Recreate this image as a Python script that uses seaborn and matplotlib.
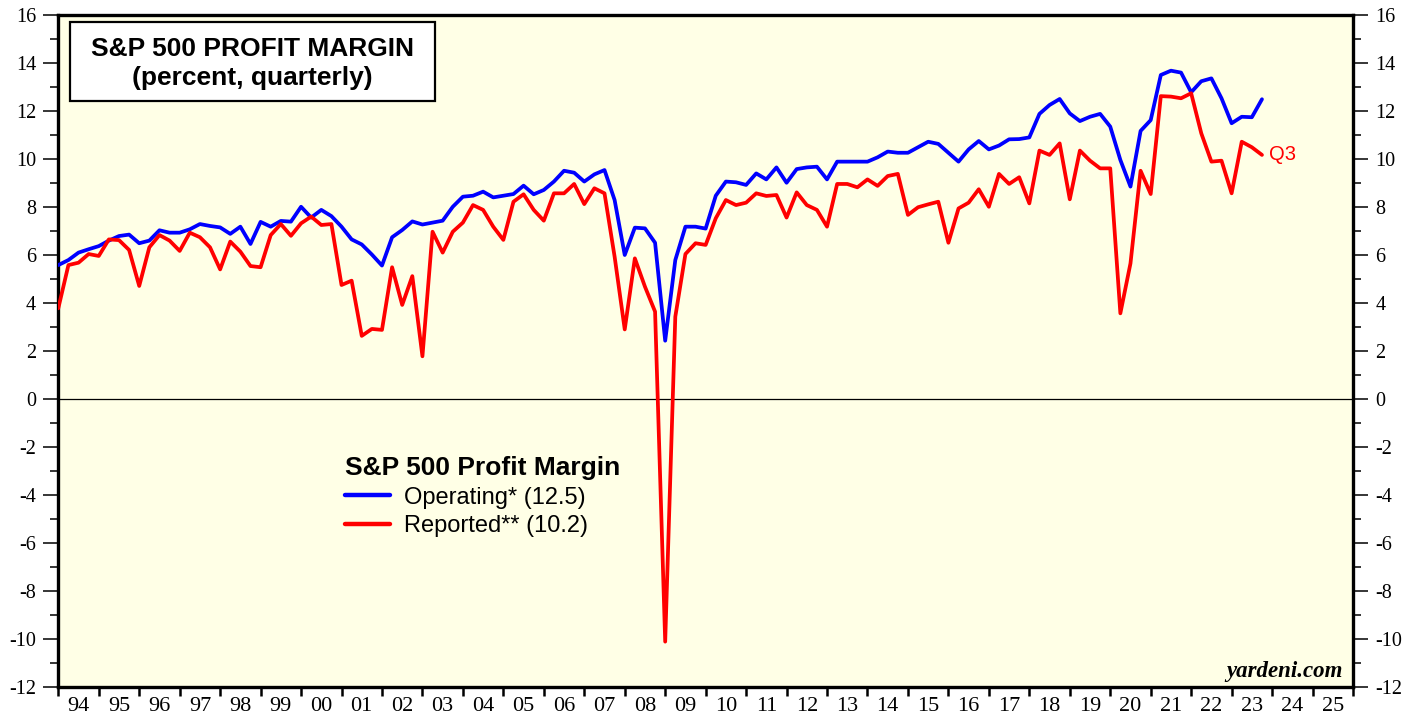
import numpy as np
import pandas as pd
import matplotlib
matplotlib.use("Agg")
import matplotlib.pyplot as plt
import seaborn as sns
from matplotlib.patches import Rectangle
from matplotlib.ticker import MultipleLocator, FixedLocator, FixedFormatter, NullFormatter

# ---------------- data (quarterly, first point = Q4 1993) ----------------
first_year, first_q = 1993, 4
operating = [
    5.58, 5.79, 6.10, 6.24, 6.37, 6.60, 6.79, 6.85, 6.49, 6.60,
    7.03, 6.93, 6.93, 7.07, 7.29, 7.21, 7.15, 6.88, 7.18, 6.46,
    7.38, 7.18, 7.42, 7.39, 8.01, 7.56, 7.88, 7.62, 7.18, 6.65,
    6.44, 6.02, 5.56, 6.74, 7.04, 7.40, 7.27, 7.35, 7.43, 8.01,
    8.43, 8.47, 8.64, 8.40, 8.47, 8.54, 8.89, 8.53, 8.71, 9.06,
    9.51, 9.43, 9.06, 9.36, 9.54, 8.29, 6.00, 7.14, 7.11, 6.51,
    2.43, 5.79, 7.18, 7.18, 7.10, 8.47, 9.06, 9.03, 8.92, 9.40,
    9.15, 9.65, 9.01, 9.58, 9.65, 9.68, 9.15, 9.89, 9.89, 9.89,
    9.89, 10.07, 10.31, 10.26, 10.26, 10.49, 10.72, 10.63, 10.26, 9.89,
    10.40, 10.75, 10.40, 10.56, 10.82, 10.83, 10.90, 11.88, 12.25, 12.50,
    11.90, 11.58, 11.76, 11.88, 11.35, 9.96, 8.85, 11.17, 11.62, 13.50,
    13.68, 13.60, 12.78, 13.24, 13.36, 12.53, 11.49, 11.76, 11.74, 12.49,
]
reported = [
    3.78, 5.58, 5.68, 6.04, 5.96, 6.65, 6.62, 6.21, 4.71, 6.32,
    6.83, 6.60, 6.17, 6.93, 6.74, 6.32, 5.40, 6.56, 6.14, 5.54,
    5.49, 6.83, 7.29, 6.80, 7.32, 7.60, 7.25, 7.29, 4.75, 4.93,
    2.63, 2.92, 2.88, 5.49, 3.92, 5.12, 1.78, 6.97, 6.10, 6.97,
    7.35, 8.08, 7.88, 7.18, 6.63, 8.22, 8.53, 7.88, 7.43, 8.57,
    8.57, 8.96, 8.12, 8.78, 8.57, 5.93, 2.90, 5.86, 4.68, 3.64,
    -10.11, 3.43, 6.04, 6.49, 6.42, 7.53, 8.29, 8.08, 8.18, 8.57,
    8.46, 8.50, 7.56, 8.61, 8.08, 7.88, 7.18, 8.96, 8.96, 8.82,
    9.15, 8.88, 9.29, 9.38, 7.67, 7.99, 8.11, 8.22, 6.51, 7.94,
    8.18, 8.74, 8.01, 9.38, 8.96, 9.24, 8.15, 10.35, 10.17, 10.65,
    8.32, 10.35, 9.93, 9.61, 9.61, 3.57, 5.65, 9.51, 8.54, 12.62,
    12.60, 12.53, 12.74, 11.07, 9.89, 9.93, 8.57, 10.72, 10.49, 10.17,
]
series_names = ["Operating* (12.5)", "Reported** (10.2)"]
series_colors = ["#0000FF", "#FF0000"]
year_labels = ["94", "95", "96", "97", "98", "99", "00", "01", "02", "03",
               "04", "05", "06", "07", "08", "09", "10", "11", "12", "13",
               "14", "15", "16", "17", "18", "19", "20", "21", "22", "23",
               "24", "25"]
first_label_year = 1994
last_quarter_label = "Q3"

# quarter-end positions (Q4 1993 -> 1994.0)
n = len(operating)
t = first_year + (np.arange(n) + first_q) / 4.0
df = pd.DataFrame({
    "t": np.concatenate([t, t]),
    "value": operating + reported,
    "series": [series_names[0]] * n + [series_names[1]] * n,
})

# ---------------- figure ----------------
sns.set_style("white")
plt.rcParams["font.family"] = ["Liberation Serif", "DejaVu Serif"]
plt.rcParams["text.color"] = "black"
plt.rcParams["axes.labelcolor"] = "black"
plt.rcParams["xtick.color"] = "black"
plt.rcParams["ytick.color"] = "black"
plt.rcParams["axes.unicode_minus"] = False
SANS = ["Liberation Sans", "DejaVu Sans"]

W, H = 1419, 719
fig = plt.figure(figsize=(W / 100, H / 100), dpi=100)
L, R, T, B = 58.3, 1353, 15, 687
ax = fig.add_axes([L / W, 1 - B / H, (R - L) / W, (B - T) / H])
ax.set_facecolor("#FFFFE6")

ax.axhline(0, color="black", lw=0.9, zorder=1)
sns.lineplot(data=df, x="t", y="value", hue="series",
             palette=dict(zip(series_names, series_colors)),
             linewidth=2.7, sort=False, estimator=None, ax=ax, zorder=3)

x0 = first_label_year
x1 = first_label_year + len(year_labels)
ax.set_xlim(x0, x1)
ax.set_ylim(-12, 16)
ax.set_xlabel("")
ax.set_ylabel("")

# y ticks both sides
ax.yaxis.set_major_locator(MultipleLocator(2))
ax.yaxis.set_minor_locator(MultipleLocator(1))
ax.tick_params(axis="y", which="major", direction="out", length=11, width=1.1,
               left=True, right=True, labelleft=True, labelright=True,
               labelsize=14.5, pad=5, colors="black")
ax.tick_params(axis="y", which="minor", direction="out", length=6, width=1.1,
               left=True, right=True)

# x ticks: year boundaries, labels centred in each year
ax.xaxis.set_major_locator(FixedLocator(np.arange(x0, x1 + 1)))
ax.xaxis.set_major_formatter(NullFormatter())
ax.xaxis.set_minor_locator(FixedLocator(np.arange(x0, x1) + 0.5))
ax.xaxis.set_minor_formatter(FixedFormatter(year_labels))
ax.tick_params(axis="x", which="major", direction="out", length=6.5, width=1.8,
               bottom=True, top=False)
ax.tick_params(axis="x", which="minor", length=0, labelsize=16, pad=7,
               colors="black")

for s in ax.spines.values():
    s.set_visible(True)
    s.set_linewidth(2.4)
    s.set_color("black")

# legend
handles, labels = ax.get_legend_handles_labels()
leg = ax.legend(handles, labels, title="S&P 500 Profit Margin",
                loc="upper left", bbox_to_anchor=((345 - L) / (R - L), (B - 456) / (B - T)),
                frameon=False, alignment="left", borderpad=0, borderaxespad=0,
                handlelength=1.9, handletextpad=0.6, labelspacing=0.28,
                prop={"family": SANS, "size": 17},
                title_fontproperties={"family": SANS, "weight": "bold", "size": 19})
leg.get_title().set_color("black")
for txt in leg.get_texts():
    txt.set_color("black")
for ln in leg.get_lines():
    ln.set_linewidth(3.2)

# title box
ax.add_patch(Rectangle(((70 - L) / (R - L), (B - 101) / (B - T)),
                       365 / (R - L), 79 / (B - T), transform=ax.transAxes,
                       facecolor="white", edgecolor="black", lw=1.6, zorder=5))
cx = (252.5 - L) / (R - L)
ax.text(cx, (B - 49) / (B - T), "S&P 500 PROFIT MARGIN", transform=ax.transAxes,
        ha="center", va="center", fontsize=19, fontweight="bold", family=SANS,
        color="black", zorder=6)
ax.text(cx, (B - 78) / (B - T), "(percent, quarterly)", transform=ax.transAxes,
        ha="center", va="center", fontsize=19, fontweight="bold", family=SANS,
        color="black", zorder=6)

# Q3 label at last reported value
ax.annotate(last_quarter_label, xy=(t[-1], reported[-1]), xytext=(5, 0),
            textcoords="offset points", ha="left", va="center",
            color="#FF0000", fontsize=14.5, family=SANS)

# source
ax.text((1343 - L) / (R - L), (B - 672) / (B - T), "yardeni.com", transform=ax.transAxes,
        ha="right", va="center", fontsize=16.5, fontweight="bold", fontstyle="italic",
        color="black")

fig.savefig("out.png", dpi=100, facecolor="white")
